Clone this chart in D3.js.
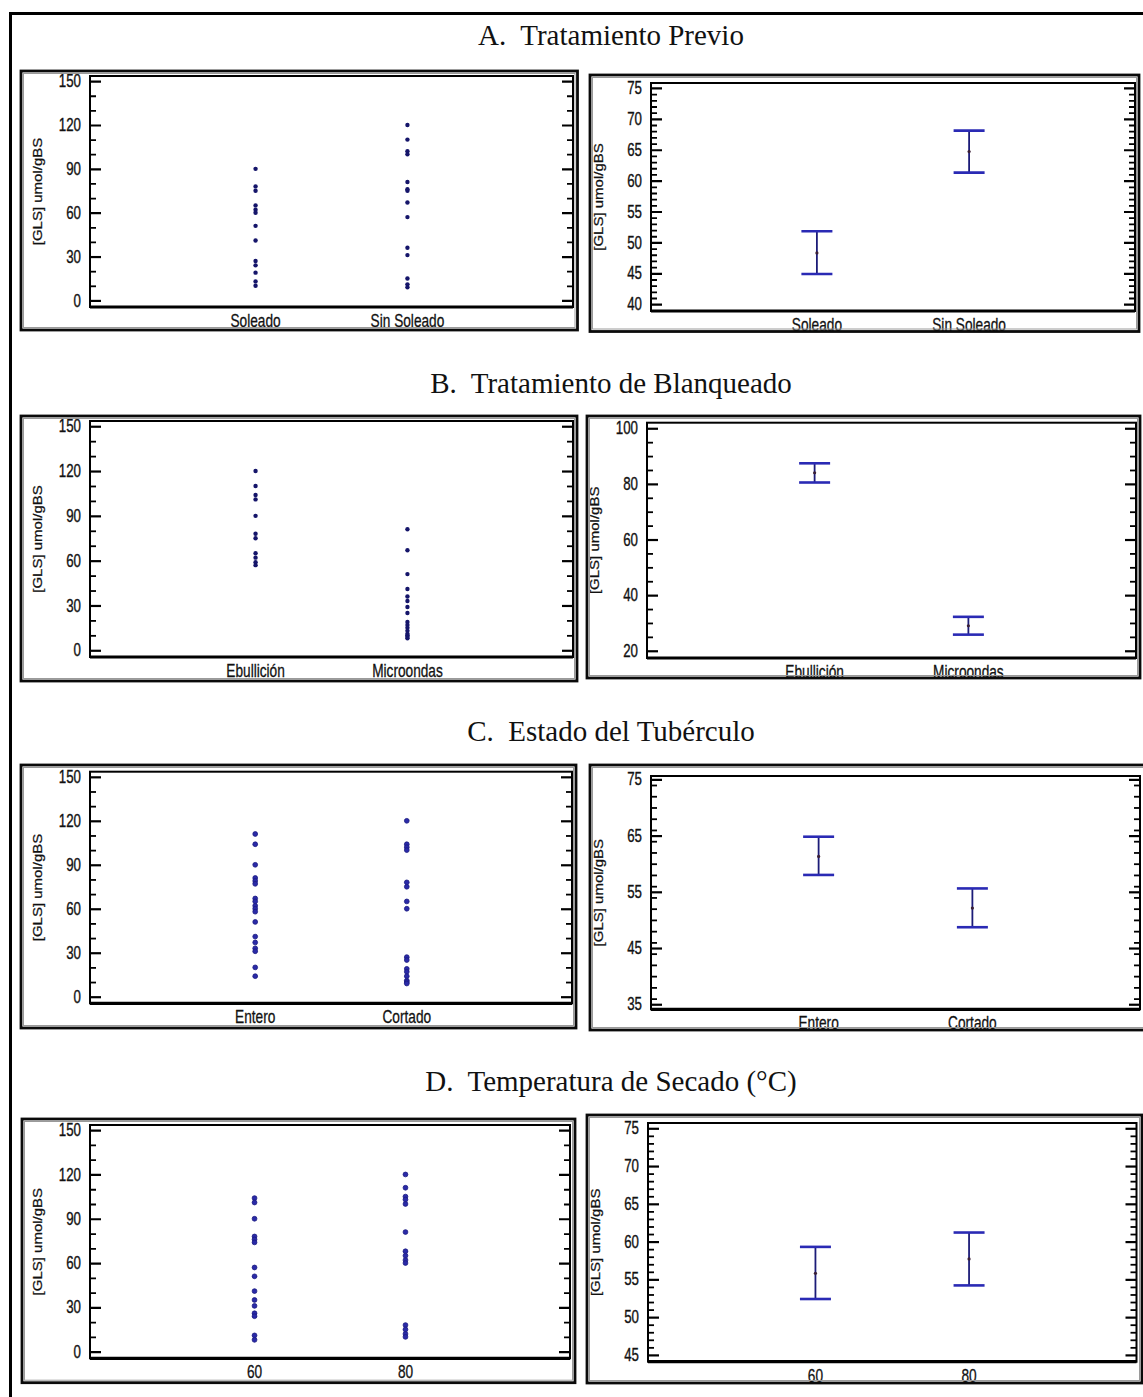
<!DOCTYPE html>
<html>
<head>
<meta charset="utf-8">
<script src="https://cdn.jsdelivr.net/npm/d3@7"></script>
<style>
  html, body { margin: 0; padding: 0; background: #fff; }
  svg { display: block; }
  .ttl { white-space: pre; }
</style>
</head>
<body>
<svg id="fig" width="1143" height="1397"></svg>
<script>
// ---- data -------------------------------------------------------------
const titles = [
  "A.  Tratamiento Previo",
  "B.  Tratamiento de Blanqueado",
  "C.  Estado del Tubérculo",
  "D.  Temperatura de Secado (°C)"
];
const yTitle = "[GLS] umol/gBS";

const catsA = ["Soleado", "Sin Soleado"];
const catsB = ["Ebullición", "Microondas"];
const catsC = ["Entero", "Cortado"];
const catsD = ["60", "80"];

// individual [GLS] observations per level
const glsA = [
  [90, 78, 75, 65, 62, 60, 51, 41, 27, 24, 19, 13, 10],
  [120, 110, 102, 100, 81, 76, 75, 67, 57, 36, 31, 15, 11, 9]
];
const glsB = [
  [120, 110, 104, 101, 90, 78, 75, 65, 62, 59, 57],
  [81, 67, 51, 41, 36, 33, 29, 25, 19, 17, 15, 13, 11, 10, 9, 8]
];
const glsC = [
  [111, 104, 90, 81, 79, 77, 67, 65, 62, 60, 58, 51, 41, 37, 33, 31, 20, 14],
  [120, 104, 102, 100, 78, 75, 65, 60, 27, 25, 19, 17, 14, 11, 10, 9]
];
const glsD = [
  [104, 101, 90, 78, 76, 74, 57, 51, 41, 35, 31, 26, 24, 11, 8],
  [120, 111, 105, 103, 100, 81, 68, 65, 62, 60, 18, 15, 12, 10]
];

// means with LSD interval limits
const meanA = [48.3, 64.7], lowA = [44.9, 61.3], highA = [51.8, 68.1];
const meanB = [84.0, 29.0], lowB = [80.5, 25.8], highB = [87.4, 32.2];
const meanC = [61.3, 52.1], lowC = [58.0, 48.7], highC = [64.8, 55.6];
const meanD = [55.8, 57.7], lowD = [52.4, 54.2], highD = [59.3, 61.2];

// axis ranges and tick labels
const scatterDomain = [-4.5, 153.5];
const scatterTicks = [0, 30, 60, 90, 120, 150];
const meanDomains = [[38.9, 75.8], [17.4, 102], [34.1, 75.6], [44.1, 75.7]];
const meanTicksA = [40, 45, 50, 55, 60, 65, 70, 75];
const meanTicksB = [20, 40, 60, 80, 100];
const meanTicksC = [35, 45, 55, 65, 75];
const meanTicksD = [45, 50, 55, 60, 65, 70, 75];

// ---- layout -----------------------------------------------------------
const svg = d3.select("#fig");
const titleBase = [45, 392.5, 740.5, 1090.5];
const layout = [
  { L: { box: [21, 71, 577.5, 330],  plot: [90, 76, 573, 307] },
    R: { box: [590, 75, 1139, 331.5], plot: [651, 83, 1135, 311] } },
  { L: { box: [21, 416, 577, 681],    plot: [90, 421, 573, 657] },
    R: { box: [587, 416, 1140, 678],  plot: [647, 422.7, 1136, 658] } },
  { L: { box: [21, 765, 576, 1028],   plot: [90, 771.7, 572, 1003.3] },
    R: { box: [590, 765, 1148, 1030], plot: [651, 776, 1140, 1009.3] } },
  { L: { box: [22, 1119, 575, 1382.7], plot: [90, 1125, 570, 1358.3] },
    R: { box: [587, 1115, 1142, 1383],   plot: [648, 1123, 1136.5, 1361.7] } }
];

const sections = [
  { cats: catsA, obs: glsA, mean: meanA, low: lowA, high: highA, ticks: meanTicksA, minor: 1 },
  { cats: catsB, obs: glsB, mean: meanB, low: lowB, high: highB, ticks: meanTicksB, minor: 5 },
  { cats: catsC, obs: glsC, mean: meanC, low: lowC, high: highC, ticks: meanTicksC, minor: 2 },
  { cats: catsD, obs: glsD, mean: meanD, low: lowD, high: highD, ticks: meanTicksD, minor: 1 }
];

const SANS = "'Liberation Sans', Arial, sans-serif";
const SERIF = "'Liberation Serif', 'Times New Roman', serif";

// outer frame around the whole figure
svg.append("rect")
  .attr("x", 10.5).attr("y", 13.5)
  .attr("width", 1150).attr("height", 1400)
  .attr("fill", "none").attr("stroke", "#000").attr("stroke-width", 3);

let clipCount = 0;

function makePanel(box, plot) {
  const [bx0, by0, bx1, by1] = box;
  const id = "clip" + (clipCount++);
  svg.append("clipPath").attr("id", id)
    .append("rect").attr("x", bx0).attr("y", by0)
    .attr("width", bx1 - bx0).attr("height", by1 - by0);
  const g = svg.append("g");
  g.append("rect").attr("x", bx0).attr("y", by0)
    .attr("width", bx1 - bx0).attr("height", by1 - by0).attr("fill", "#fff");
  const inner = g.append("g").attr("clip-path", `url(#${id})`);
  return { g, inner, box, plot };
}

function finishPanel(p) {
  const [bx0, by0, bx1, by1] = p.box;
  // double-line panel border
  p.g.append("rect").attr("x", bx0 + 2.5).attr("y", by0 + 2.5)
    .attr("width", bx1 - bx0 - 5).attr("height", by1 - by0 - 5)
    .attr("fill", "none").attr("stroke", "#9a9a9a").attr("stroke-width", 1);
  p.g.append("rect").attr("x", bx0).attr("y", by0)
    .attr("width", bx1 - bx0).attr("height", by1 - by0)
    .attr("fill", "none").attr("stroke", "#0a0a0a").attr("stroke-width", 2.8);
}

function drawAxes(p, y, major, minorStep, x, cats) {
  const [px0, py0, px1, py1] = p.plot;
  const g = p.inner;
  const dom = y.domain();
  const minor = d3.range(Math.ceil(dom[0] / minorStep) * minorStep, dom[1] + 1e-9, minorStep)
    .filter(v => !major.some(m => Math.abs(m - v) < 1e-9));
  const pad = 9;

  const styleTicks = (sel, w) => {
    sel.select(".domain").remove();
    sel.selectAll("line").attr("stroke", "#000").attr("stroke-width", w);
  };

  // left: major ticks + labels
  const la = g.append("g").attr("transform", `translate(${px0},0)`)
    .call(d3.axisLeft(y).tickValues(major).tickSize(-11).tickPadding(pad).tickFormat(d3.format("d")));
  styleTicks(la, 2.2);
  la.attr("font-family", SANS).attr("font-size", 17.5);
  la.selectAll("text")
    .attr("x", 0)
    .attr("fill", "#111")
    .attr("stroke", "#111").attr("stroke-width", 0.35)
    .attr("transform", `translate(${-pad},0) scale(0.76,1)`);
  // left: minor ticks
  const lm = g.append("g").attr("transform", `translate(${px0},0)`)
    .call(d3.axisLeft(y).tickValues(minor).tickSize(-6).tickFormat(""));
  styleTicks(lm, 1.8);
  // right: mirrored ticks
  const ra = g.append("g").attr("transform", `translate(${px1},0)`)
    .call(d3.axisRight(y).tickValues(major).tickSize(-11).tickFormat(""));
  styleTicks(ra, 2.2);
  const rm = g.append("g").attr("transform", `translate(${px1},0)`)
    .call(d3.axisRight(y).tickValues(minor).tickSize(-6).tickFormat(""));
  styleTicks(rm, 1.8);

  // plot frame, heavier baseline
  g.append("rect").attr("x", px0).attr("y", py0)
    .attr("width", px1 - px0).attr("height", py1 - py0)
    .attr("fill", "none").attr("stroke", "#000").attr("stroke-width", 2);
  g.append("line").attr("x1", px0).attr("x2", px1).attr("y1", py1).attr("y2", py1)
    .attr("stroke", "#000").attr("stroke-width", 3.2);

  // category labels
  g.selectAll(null).data(cats).enter().append("text")
    .attr("transform", d => `translate(${x(d)},${py1 + 20}) scale(0.76,1)`)
    .attr("text-anchor", "middle")
    .attr("font-family", SANS).attr("font-size", 18)
    .attr("fill", "#111")
    .attr("stroke", "#111").attr("stroke-width", 0.3)
    .text(d => d);

  // rotated y-axis title
  g.append("text")
    .attr("transform", `translate(${px0 - 52},${(py0 + py1) / 2}) rotate(-90) scale(1.2,1)`)
    .attr("text-anchor", "middle")
    .attr("dominant-baseline", "central")
    .attr("font-family", SANS).attr("font-size", 12.5)
    .attr("fill", "#111")
    .attr("stroke", "#111").attr("stroke-width", 0.25)
    .text(yTitle);
}

sections.forEach((s, i) => {
  // section heading
  svg.append("text").attr("class", "ttl")
    .attr("x", 611).attr("y", titleBase[i])
    .attr("text-anchor", "middle")
    .attr("font-family", SERIF).attr("font-size", 29)
    .attr("fill", "#111")
    .text(titles[i]);

  // ---- scatter of observations ----
  const L = makePanel(layout[i].L.box, layout[i].L.plot);
  const [lx0, ly0, lx1, ly1] = L.plot;
  const xl = d3.scalePoint().domain(s.cats).range([lx0, lx1]).padding(1.09);
  const yl = d3.scaleLinear().domain(scatterDomain).range([ly1, ly0]);
  drawAxes(L, yl, scatterTicks, 10, xl, s.cats);
  const pts = s.cats.flatMap((c, k) => s.obs[k].map(v => ({ c, v })));
  L.inner.selectAll(null).data(pts).enter().append("circle")
    .attr("cx", d => xl(d.c)).attr("cy", d => yl(d.v))
    .attr("r", i >= 2 ? 2.4 : 2.2)
    .attr("fill", i >= 2 ? "#2a2aa8" : "#15156a")
    .attr("stroke", i >= 2 ? "#1a1a80" : "none")
    .attr("stroke-width", 0.8);
  finishPanel(L);

  // ---- means with intervals ----
  const R = makePanel(layout[i].R.box, layout[i].R.plot);
  const [rx0, ry0, rx1, ry1] = R.plot;
  const xr = d3.scalePoint().domain(s.cats).range([rx0, rx1]).padding(1.09);
  const yr = d3.scaleLinear().domain(meanDomains[i]).range([ry1, ry0]);
  drawAxes(R, yr, s.ticks, s.minor, xr, s.cats);
  const bars = s.cats.map((c, k) => ({ c, m: s.mean[k], lo: s.low[k], hi: s.high[k] }));
  const eb = R.inner.selectAll(null).data(bars).enter().append("g");
  eb.append("line")
    .attr("x1", d => xr(d.c)).attr("x2", d => xr(d.c))
    .attr("y1", d => yr(d.lo)).attr("y2", d => yr(d.hi))
    .attr("stroke", "#1c1c78").attr("stroke-width", 1.8);
  ["lo", "hi"].forEach(key => {
    eb.append("line")
      .attr("x1", d => xr(d.c) - 15.5).attr("x2", d => xr(d.c) + 15.5)
      .attr("y1", d => yr(d[key])).attr("y2", d => yr(d[key]))
      .attr("stroke", "#2a2ab4").attr("stroke-width", 2.6);
  });
  eb.append("circle")
    .attr("cx", d => xr(d.c)).attr("cy", d => yr(d.m))
    .attr("r", 1.6).attr("fill", "#3a1f35");
  finishPanel(R);
});
</script>
</body>
</html>
